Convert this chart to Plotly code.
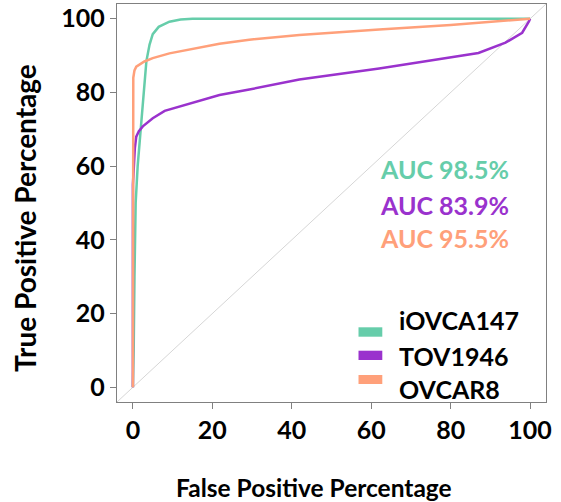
import plotly.graph_objects as go

# ---- data ----
series_names = ["iOVCA147", "TOV1946", "OVCAR8"]
series_colors = ["#66CDAA", "#9A32CD", "#FFA07A"]

iovca147_fpr = [0, 0.2, 0.4, 0.7, 1.2, 1.85, 2.5, 3.0, 3.4, 4.2, 5.0, 6.5, 9.2, 12, 15, 100]
iovca147_tpr = [0, 10, 30, 50, 60, 69, 78, 84, 88.5, 93, 95.8, 97.8, 99.2, 99.8, 100, 100]

tov1946_fpr = [0, 0, 0.25, 0.5, 0.85, 1.5, 2.5, 5, 8, 13.4, 21.8, 29.3, 41.9, 62, 74.5, 87, 93.8, 98, 99.7, 100]
tov1946_tpr = [0, 55, 60, 65, 68, 69.5, 70.8, 73, 75, 76.6, 79.3, 80.8, 83.5, 86.5, 88.5, 90.7, 93.5, 96.2, 99.3, 100]

ovcar8_fpr = [0, 0, 0.1, 0.4, 0.85, 2.9, 5, 9.2, 13.4, 21.8, 29.3, 41.9, 62, 80, 100]
ovcar8_tpr = [0, 80, 84, 86, 87, 88.4, 89.3, 90.6, 91.5, 93.2, 94.3, 95.6, 97.1, 98.3, 100]

auc_labels = ["AUC 98.5%", "AUC 83.9%", "AUC 95.5%"]

tick_vals = [0, 20, 40, 60, 80, 100]
axis_range = [-4, 104]

x_title = "False Positive Percentage"
y_title = "True Positive Percentage"

# ---- layout geometry ----
W, H = 561, 502
ML, MR, MT, MB = 117, 15, 4, 100
PW, PH = W - ML - MR, H - MT - MB


def px(xp):
    return (xp - ML) / PW


def py(yp):
    return (H - MB - yp) / PH


FONT = "Lato"

fig = go.Figure()
for xs, ys, name, col in [
    (iovca147_fpr, iovca147_tpr, series_names[0], series_colors[0]),
    (tov1946_fpr, tov1946_tpr, series_names[1], series_colors[1]),
    (ovcar8_fpr, ovcar8_tpr, series_names[2], series_colors[2]),
]:
    fig.add_trace(go.Scatter(x=xs, y=ys, mode="lines", name=name,
                             line=dict(color=col, width=2.5), showlegend=False,
                             hoverinfo="x+y+name"))

shapes = [dict(type="line", xref="x", yref="y", x0=axis_range[0], y0=axis_range[0],
               x1=axis_range[1], y1=axis_range[1], line=dict(color="#d6d6d6", width=1),
               layer="below")]

annotations = []
# AUC labels
auc_y = [168.7, 205, 238.3]
for lab, col, yp in zip(auc_labels, series_colors, auc_y):
    annotations.append(dict(text=f"<b>{lab}</b>", xref="paper", yref="paper",
                            x=px(511), y=py(yp), xanchor="right", yanchor="middle",
                            showarrow=False, font=dict(family=FONT, size=25, color=col)))

# Legend (swatches + labels)
sw_y = [(327.3, 336.7), (350.7, 360), (375, 384)]
txt_y = [320, 356, 389]
for name, col, (y0, y1), ty in zip(series_names, series_colors, sw_y, txt_y):
    shapes.append(dict(type="rect", xref="paper", yref="paper", x0=px(358.5), x1=px(382.3),
                       y0=py(y1), y1=py(y0), fillcolor=col, line=dict(width=0)))
    annotations.append(dict(text=f"<b>{name}</b>", xref="paper", yref="paper",
                            x=px(397), y=py(ty), xanchor="left", yanchor="middle",
                            showarrow=False, font=dict(family=FONT, size=25, color="black")))

# axis titles
annotations.append(dict(text=f"<b>{x_title}</b>", xref="paper", yref="paper",
                        x=px(314), y=py(487), xanchor="center", yanchor="middle",
                        showarrow=False, font=dict(family=FONT, size=24.5, color="black")))
annotations.append(dict(text=f"<b>{y_title}</b>", xref="paper", yref="paper",
                        x=px(25), y=py(218), xanchor="center", yanchor="middle", textangle=-90,
                        showarrow=False, font=dict(family=FONT, size=28, color="black")))

axis_common = dict(range=axis_range, tickvals=tick_vals, ticks="outside", ticklen=6,
                   tickcolor="#808080", tickwidth=1, showline=True, mirror=True,
                   linecolor="#808080", linewidth=1.3, showgrid=False, zeroline=False,
                   automargin=False,
                   tickfont=dict(family=FONT, size=25, color="black", weight="bold"))

fig.update_layout(
    width=W, height=H,
    margin=dict(l=ML, r=MR, t=MT, b=MB, autoexpand=False),
    plot_bgcolor="white", paper_bgcolor="white",
    xaxis=dict(**axis_common),
    yaxis=dict(**axis_common),
    shapes=shapes, annotations=annotations,
    showlegend=False,
)

fig.write_html("out.html", config={"displayModeBar": False},
               post_script="document.body.style.margin='0';document.body.style.overflow='hidden';")
